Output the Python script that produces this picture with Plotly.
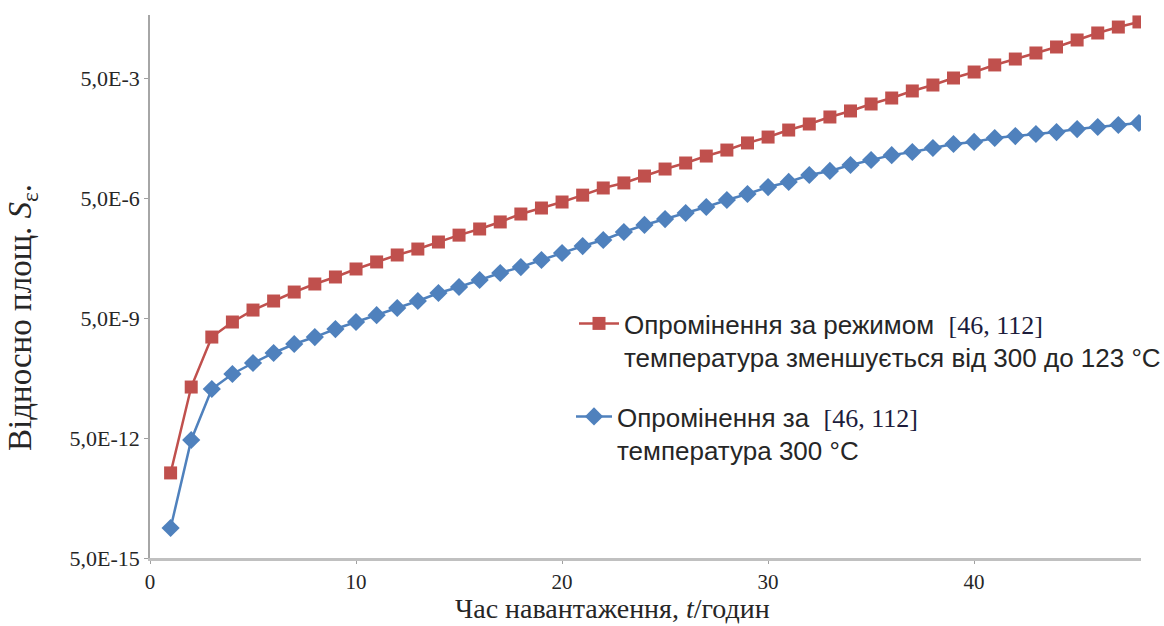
import plotly.graph_objects as go

# Loading time, hours
hours = list(range(1, 49))

# Relative area S_eps, irradiation with temperature falling from 300 to 123 °C
s_falling_temp = [
    6.7e-13, 9.4e-11, 1.67e-9, 3.97e-9, 7.9e-9, 1.33e-8, 2.23e-8, 3.54e-8,
    5.3e-8, 8.4e-8, 1.26e-7, 1.88e-7, 2.65e-7, 3.97e-7, 5.9e-7, 8.4e-7,
    1.26e-6, 1.99e-6, 2.81e-6, 3.97e-6, 5.9e-6, 8.9e-6, 1.19e-5, 1.77e-5,
    2.65e-5, 3.75e-5, 5.6e-5, 7.9e-5, 1.19e-4, 1.67e-4, 2.5e-4, 3.54e-4,
    5.3e-4, 7.5e-4, 1.12e-3, 1.58e-3, 2.37e-3, 3.34e-3, 5.0e-3, 7.06e-3,
    1.06e-2, 1.49e-2, 2.11e-2, 2.98e-2, 4.46e-2, 6.67e-2, 9.4e-2, 0.126,
]

# Relative area S_eps, irradiation at constant 300 °C
s_const_temp = [
    2.81e-14, 4.46e-12, 8.4e-11, 1.99e-10, 3.75e-10, 6.67e-10, 1.12e-9, 1.67e-9,
    2.65e-9, 3.97e-9, 5.9e-9, 8.9e-9, 1.33e-8, 2.11e-8, 2.98e-8, 4.46e-8,
    6.67e-8, 9.4e-8, 1.41e-7, 2.11e-7, 3.15e-7, 4.46e-7, 7.06e-7, 1.06e-6,
    1.49e-6, 2.11e-6, 2.98e-6, 4.46e-6, 6.3e-6, 9.4e-6, 1.26e-5, 1.88e-5,
    2.37e-5, 3.34e-5, 4.46e-5, 5.9e-5, 7.06e-5, 8.9e-5, 1.12e-4, 1.26e-4,
    1.58e-4, 1.77e-4, 1.99e-4, 2.23e-4, 2.65e-4, 2.98e-4, 3.34e-4, 3.75e-4,
]

y_tick_vals = [5e-15, 5e-12, 5e-9, 5e-6, 5e-3]
y_tick_text = ["5,0E-15", "5,0E-12", "5,0E-9", "5,0E-6", "5,0E-3"]
x_tick_vals = [0, 10, 20, 30, 40]

RED = "#C0504D"
BLUE = "#4F81BD"
SERIF = "Liberation Serif"
SANS = "Liberation Sans"
REF = "<span style='font-family:Liberation Serif;color:#1c1c3c'>[46, 112]</span>"

W, H = 1164, 626
L, R, T, B = 150, 23, 15, 68
PW, PH = W - L - R, H - T - B


def px_x(px):
    return (px - L) / PW


def px_y(py):
    return 1 - (py - T) / PH


fig = go.Figure()

fig.add_trace(go.Scatter(
    x=hours, y=s_falling_temp, mode="lines+markers",
    name="Опромінення за режимом&nbsp; " + REF
         + "<br>температура зменшується від 300 до 123 °C",
    line=dict(color=RED, width=2.5),
    marker=dict(symbol="square", size=13, color=RED),
    legend="legend",
))

fig.add_trace(go.Scatter(
    x=hours, y=s_const_temp, mode="lines+markers",
    name="Опромінення за &nbsp;" + REF + "<br>температура 300 °C",
    line=dict(color=BLUE, width=2.5),
    marker=dict(symbol="diamond", size=14, color=BLUE),
    legend="legend2",
))

legend_font = dict(family=SANS, size=26, color="#262626")

fig.update_layout(
    width=W, height=H,
    margin=dict(l=L, r=R, t=T, b=B, autoexpand=False),
    paper_bgcolor="white", plot_bgcolor="white",
    font=dict(family=SERIF, size=21, color="#262626"),
    showlegend=True,
    legend=dict(
        x=px_x(574), y=px_y(300), xanchor="left", yanchor="top",
        font=legend_font, itemwidth=40, valign="top",
        bgcolor="rgba(0,0,0,0)",
    ),
    legend2=dict(
        x=px_x(571), y=px_y(393), xanchor="left", yanchor="top",
        font=legend_font, itemwidth=36, valign="top",
        bgcolor="rgba(0,0,0,0)",
    ),
    xaxis=dict(
        range=[0, 48.1],
        tickvals=x_tick_vals,
        showgrid=False, zeroline=False,
        showline=True, linecolor="#c0c0c0", linewidth=2.5,
        ticks="outside", ticklen=3, tickcolor="#a0a0a0",
        tickfont=dict(family=SERIF, size=21),
    ),
    yaxis=dict(
        type="log",
        range=[-14.301, -0.726],
        tickvals=y_tick_vals, ticktext=y_tick_text,
        showgrid=False, zeroline=False,
        showline=True, linecolor="#a6a6a6", linewidth=1.5,
        ticks="outside", ticklen=4, tickcolor="#a0a0a0",
        tickfont=dict(family=SERIF, size=22),
    ),
    annotations=[
        dict(
            text="Час навантаження, <i>t</i>/годин",
            xref="paper", yref="paper",
            x=px_x(612), y=px_y(608),
            xanchor="center", yanchor="middle", showarrow=False,
            font=dict(family=SERIF, size=28, color="#262626"),
        ),
        dict(
            text="Відносно площ. <i>S</i><sub>ε</sub>.",
            xref="paper", yref="paper",
            x=px_x(22), y=px_y(318),
            xanchor="center", yanchor="middle", showarrow=False,
            textangle=-90,
            font=dict(family=SERIF, size=33, color="#262626"),
        ),
    ],
)

fig.write_html("out.html")
